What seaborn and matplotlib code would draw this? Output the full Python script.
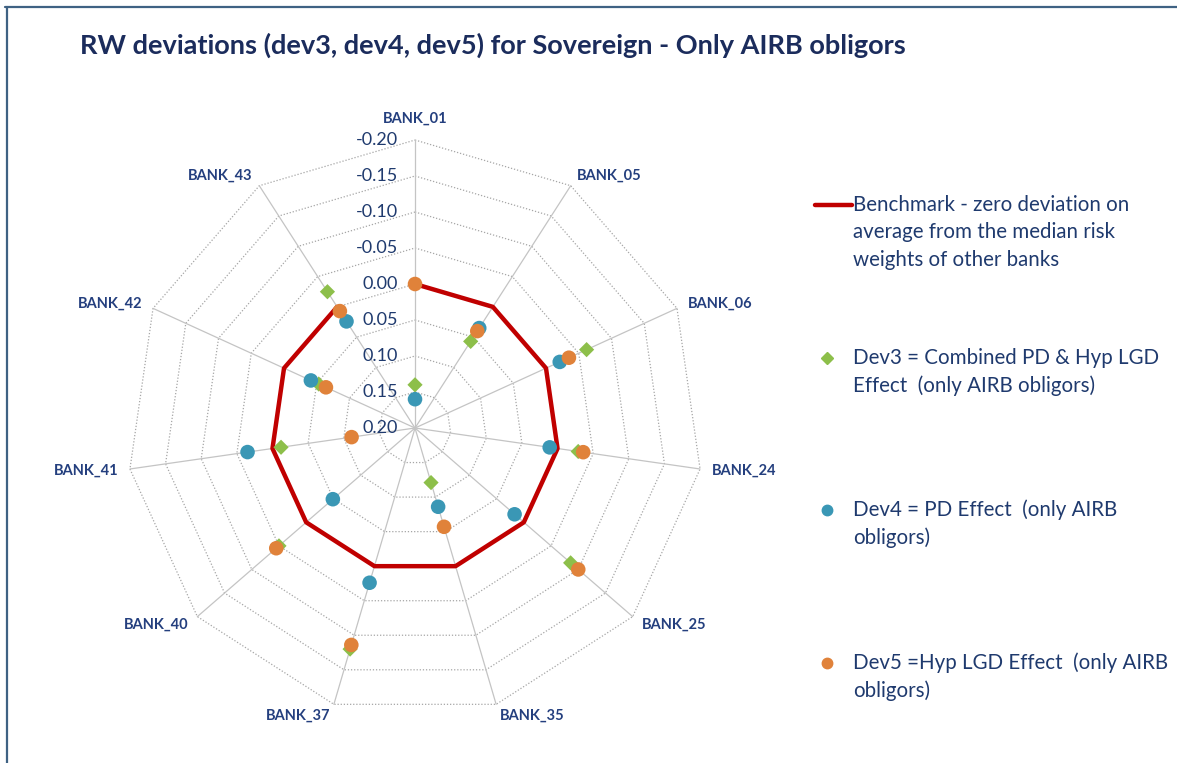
import numpy as np
import pandas as pd
import seaborn as sns
import matplotlib.pyplot as plt
from matplotlib.lines import Line2D

banks = ['BANK_01', 'BANK_05', 'BANK_06', 'BANK_24', 'BANK_25', 'BANK_35',
         'BANK_37', 'BANK_40', 'BANK_41', 'BANK_42', 'BANK_43']
benchmark = [0.00] * 11
dev3 = [0.14, 0.057, -0.062, -0.029, -0.086, 0.121, -0.12, -0.05, 0.012, 0.053, -0.025]
dev4 = [0.16, 0.035, -0.021, 0.011, 0.017, 0.086, -0.024, 0.049, -0.035, 0.041, 0.024]
dev5 = [0.00, 0.040, -0.035, -0.036, -0.100, 0.057, -0.114, -0.055, 0.111, 0.064, 0.007]
r_ticks = [-0.20, -0.15, -0.10, -0.05, 0.00, 0.05, 0.10, 0.15, 0.20]

sns.set_theme(style='white')
plt.rcParams['font.family'] = ['Lato', 'DejaVu Sans']

navy = '#1F3A6E'
grid_col = '#A6A6A6'

theta = np.arange(len(banks)) * 2 * np.pi / len(banks)
df = pd.DataFrame({
    'theta': np.tile(theta, 3),
    'value': dev3 + dev4 + dev5,
    'series': ['Dev3'] * 11 + ['Dev4'] * 11 + ['Dev5'] * 11,
})

fig = plt.figure(figsize=(11.77, 7.63), dpi=100)
ax = fig.add_axes([0.1079, 0.0616, 0.4894, 0.7549], projection='polar')
ax.set_theta_zero_location('N')
ax.set_theta_direction(-1)
ax.set_ylim(0.20, -0.20)
ax.grid(False)
ax.spines['polar'].set_visible(False)
ax.set_xticks([])
ax.set_yticks([])

# polygon grid like excel radar
closed = np.append(theta, theta[0])
for t in r_ticks[:-1]:
    ax.plot(closed, [t] * len(closed), color=grid_col, lw=0.9,
            linestyle=(0, (1, 1.5)), clip_on=False, zorder=1)
for th in theta:
    ax.plot([th, th], [0.20, -0.20], color='#C4C4C4', lw=0.9, clip_on=False, zorder=1)

# radial tick labels along top spoke
for t in r_ticks:
    ax.annotate(f'{t:.2f}', xy=(0, t), xytext=(-17, 0), textcoords='offset pixels',
                ha='right', va='center', fontsize=13, color=navy, zorder=2)

# bank labels
for name, th in zip(banks, theta):
    s, c = np.sin(th), np.cos(th)
    if abs(s) < 0.1:
        ha, va, off = 'center', 'bottom', 14
    else:
        ha, va, off = ('left' if s > 0 else 'right'), 'center', 12
    ax.annotate(name, xy=(th, -0.20), xytext=(off * s, off * c),
                textcoords='offset pixels', ha=ha, va=va,
                fontsize=10.5, color='#243F7E', fontweight='bold')

bench = pd.DataFrame({'theta': closed, 'value': benchmark + benchmark[:1]})
sns.lineplot(data=bench, x='theta', y='value', sort=False, color='#C00000',
             lw=3.2, ax=ax, zorder=3)

palette = {'Dev3': '#8DBF4A', 'Dev4': '#3A97B5', 'Dev5': '#E0823A'}
markers = {'Dev3': 'D', 'Dev4': 'o', 'Dev5': 'o'}
sizes = {'Dev3': 60, 'Dev4': 110, 'Dev5': 110}
sns.scatterplot(data=df, x='theta', y='value', hue='series', style='series',
                size='series', sizes=sizes, palette=palette, markers=markers,
                linewidth=0, legend=False, ax=ax, zorder=4, clip_on=False)
ax.set_xlabel('')
ax.set_ylabel('')

# title and frame
W, H = 1177, 763
fig.text(80 / W, 1 - 45 / H, 'RW deviations (dev3, dev4, dev5) for Sovereign - Only AIRB obligors',
         ha='left', va='center', fontsize=19.5, fontweight='bold', color='#1B2C5C')
fig.add_artist(Line2D([5 / W, 1], [1 - 7.3 / H] * 2, transform=fig.transFigure,
                      color='#3F6283', lw=1.6))
fig.add_artist(Line2D([6.5 / W] * 2, [0, 1 - 7.3 / H], transform=fig.transFigure,
                      color='#3F6283', lw=1.6))

# legend, built by hand to match the spaced-out excel layout
fig.add_artist(Line2D([815 / W, 852 / W], [1 - 205 / H] * 2, transform=fig.transFigure,
                      color='#C00000', lw=3.2))
entries = [
    (None, 205, ['Benchmark - zero deviation on', 'average from the median risk',
                 'weights of other banks']),
    ('Dev3', 358, ['Dev3 = Combined PD & Hyp LGD', 'Effect  (only AIRB obligors)']),
    ('Dev4', 510, ['Dev4 = PD Effect  (only AIRB', 'obligors)']),
    ('Dev5', 663, ['Dev5 =Hyp LGD Effect  (only AIRB', 'obligors)']),
]
for key, y0, lines in entries:
    if key is not None:
        fig.add_artist(Line2D([827 / W], [1 - y0 / H], transform=fig.transFigure,
                              marker=markers[key], color=palette[key], lw=0,
                              markersize=6 if key == 'Dev3' else 7.5))
    for i, line in enumerate(lines):
        fig.text(853 / W, 1 - (y0 + i * 27.5) / H, line, ha='left', va='center',
                 fontsize=14.8, color=navy)

fig.savefig('out.png', dpi=100)
